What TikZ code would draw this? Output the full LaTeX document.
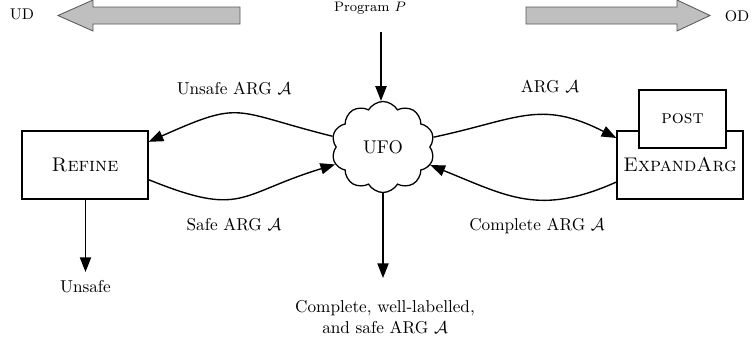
\documentclass[tikz,border=0pt]{standalone}
\usetikzlibrary{shapes.symbols,arrows.meta}
\begin{document}
\begin{tikzpicture}[x=0.5814pt,y=0.5814pt,
  box/.style={draw, line width=0.75pt, fill=white, inner sep=0pt, font=\fontsize{11.5}{14}\selectfont\scshape},
  arr/.style={-{Triangle[length=8.5pt,width=6.5pt]}, line width=0.8pt},
  lbl/.style={font=\fontsize{10}{12}\selectfont, inner sep=0pt},
  fat/.style={fill=gray!50, draw=black!65, line width=0.5pt}]
\useasboundingbox (0,0) rectangle (752,344);
% fat arrows
\filldraw[fat] (58,328.5) -- (93,344) -- (93,337) -- (240,337) -- (240,320) -- (93,320) -- (93,313) -- cycle;
\filldraw[fat] (710,328.5) -- (677,344) -- (677,337) -- (526,337) -- (526,320) -- (677,320) -- (677,313) -- cycle;
\node[font=\fontsize{9}{11}\selectfont, inner sep=0pt] (ud) at (22,330) {UD};
\node[font=\fontsize{9}{11}\selectfont, inner sep=0pt] (od) at (737,328) {OD};
\node[font=\fontsize{8}{10}\selectfont, inner sep=0pt] (prog) at (370,336) {Program $P$};
% nodes
\node[cloud, draw, line width=0.75pt, cloud puffs=10, cloud puff arc=120, aspect=1.13,
      minimum width=59.9pt, minimum height=52.9pt, inner sep=0pt,
      font=\fontsize{10.7}{12}\selectfont] (ufo) at (383,197) {UFO};
\node[box, minimum width=73.3pt, minimum height=39.5pt] (refine) at (85,179) {Refine};
\node[box, minimum width=73.3pt, minimum height=39.5pt] (exp) at (680,179) {ExpandArg};
\node[box, minimum width=50.6pt, minimum height=33.7pt, font=\fontsize{11}{13}\selectfont\scshape] (post) at (682.5,225) {post};
\node[lbl] (unsafe) at (85.5,57) {Unsafe};
\node[lbl, align=center] (result) at (385,27) {Complete, well-labelled,\\and safe ARG $\mathcal{A}$};
\coordinate (pin) at (381,312);
\coordinate (unsafetip) at (85.5,72);
\coordinate (restip) at (383,66);
% labels
\node[lbl] (l1) at (234,255) {Unsafe ARG $\mathcal{A}$};
\node[lbl] (l2) at (550,257) {ARG $\mathcal{A}$};
\node[lbl] (l3) at (234,119) {Safe ARG $\mathcal{A}$};
\node[lbl] (l4) at (537,118) {Complete ARG $\mathcal{A}$};
% connectors
\draw[arr] (pin) -- (pin |- ufo.north) ;
\draw[arr] (refine.south -| unsafetip) -- (unsafetip);
\draw[arr] (ufo.south) -- (restip);
\draw[arr] (ufo.168) to[out=166, in=24, looseness=1.45] (refine.20);
\draw[arr] (refine.-13) to[out=-22, in=197, looseness=1.4] (ufo.200);
\draw[arr] (ufo.11) to[out=12, in=153, looseness=1.2] (exp.157);
\draw[arr] (exp.195) to[out=204, in=-22, looseness=1.15] (ufo.-21);
\end{tikzpicture}
\end{document}
